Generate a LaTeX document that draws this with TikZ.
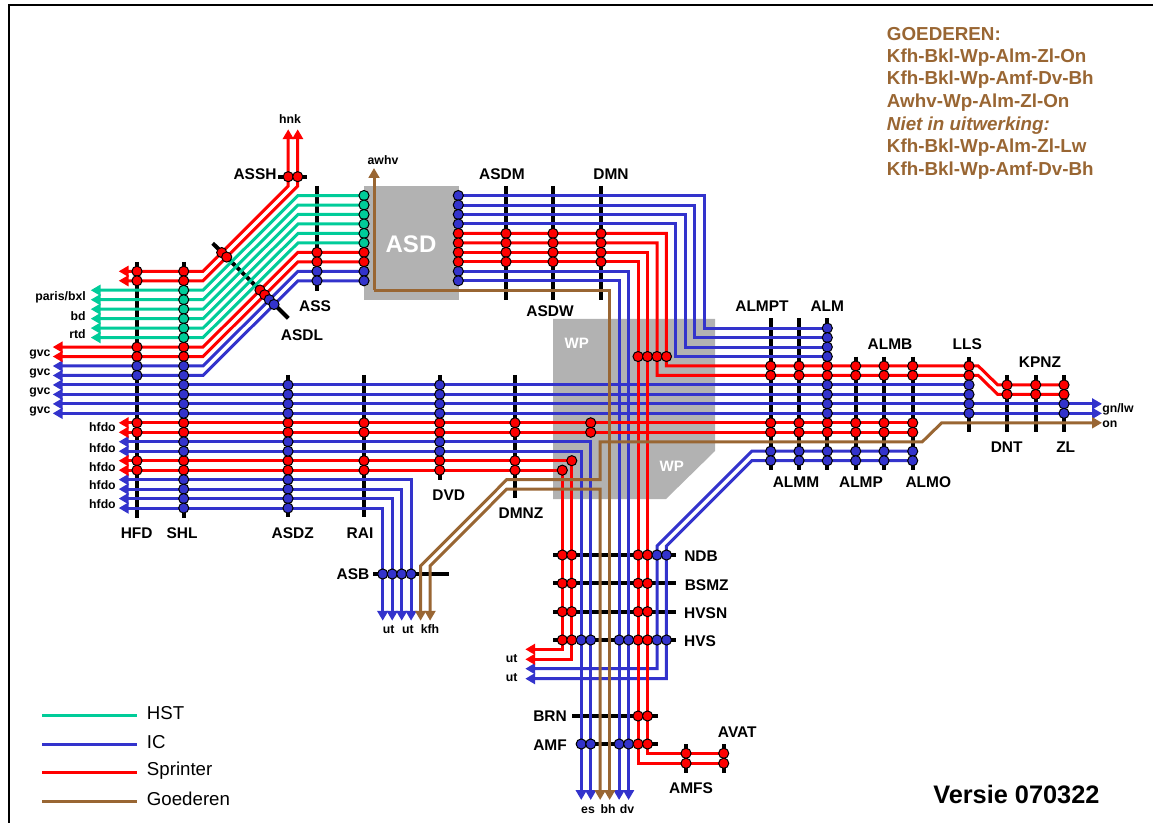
\documentclass[tikz,border=0pt]{standalone}
\usepackage{fontspec}
\setmainfont{Liberation Sans}
\usetikzlibrary{arrows.meta}

\definecolor{hstgreen}{HTML}{00CC99}
\definecolor{icblue}{HTML}{3333CC}
\definecolor{sprred}{HTML}{FF0000}
\definecolor{goedbrown}{HTML}{996633}
\definecolor{yardgrey}{HTML}{B2B2B2}

\pgfdeclarelayer{bars}
\pgfdeclarelayer{tracks}
\pgfsetlayers{bars,tracks,main}

\tikzset{
  declare function={rx(\c)=562.3+9.47*\c; ry(\k)=271.3+9.47*\k;},
  dot/.style={circle, draw=black, line width=0.75pt, inner sep=0pt, minimum size=7.6pt},
  hst/.style={dot, fill=hstgreen},
  ic/.style={dot, fill=icblue},
  spr/.style={dot, fill=sprred},
  stationbar/.style={line width=3pt, black},
  trackline/.style={line width=2.25pt, >={Triangle[length=7.4pt,width=8pt]}},
  hstline/.style={trackline, hstgreen},
  icline/.style={trackline, icblue},
  sprline/.style={trackline, sprred},
  goedline/.style={trackline, goedbrown},
  stn/.style={font=\bfseries\fontsize{11.6}{13}\selectfont, inner sep=0pt},
  dest/.style={font=\bfseries\fontsize{9.2}{11}\selectfont, inner sep=0pt},
  goedtext/.style={font=\bfseries\fontsize{14.1}{16}\selectfont, text=goedbrown, anchor=west, inner sep=0pt},
  keytext/.style={font=\fontsize{14}{16}\selectfont, anchor=west, inner sep=0pt},
}

% dots on a vertical bar (by row) and on a horizontal bar (by column)
\newcommand{\rowstops}[4]{\foreach \k in {#4} \node[#3] (#1-\k) at (#2,{ry(\k)}) {};}
\newcommand{\colstops}[4]{\foreach \c in {#4} \node[#3] (#1-\c) at ({rx(\c)},#2) {};}
\newcommand{\upbar}[4]{\coordinate (#1-top) at (#2,#3); \coordinate (#1-bot) at (#2,#4);
  \begin{pgfonlayer}{bars}\draw[stationbar] (#1-top) -- (#1-bot);\end{pgfonlayer}}
\newcommand{\acrossbar}[4]{\coordinate (#1-left) at (#3,#2); \coordinate (#1-right) at (#4,#2);
  \begin{pgfonlayer}{bars}\draw[stationbar] (#1-left) -- (#1-right);\end{pgfonlayer}}

\begin{document}
\begin{tikzpicture}[x=0.75pt, y=-0.75pt]
  \useasboundingbox (0,0) rectangle (1153,823);
  \coordinate (frame-sw) at (9,823);
  \coordinate (frame-nw) at (9,5);
  \coordinate (frame-ne) at (1153,5);
  \draw[line width=1.5pt, black] (frame-sw) -- (frame-nw) -- (frame-ne);

  % Yards
  \begin{pgfonlayer}{bars}
    \fill[yardgrey] (364,186) rectangle (459,300);
    \fill[yardgrey] (553,319) -- (715,319) -- (715,451) -- (666,499) -- (553,499) -- cycle;
  \end{pgfonlayer}
  \node[font=\bfseries\fontsize{18}{20}\selectfont, text=white, inner sep=0pt] (asdyard) at (411,244) {ASD};
  \node[font=\bfseries\fontsize{11.3}{13}\selectfont, text=white, inner sep=0pt] (wpnorth) at (576.7,343) {WP};
  \node[font=\bfseries\fontsize{11.3}{13}\selectfont, text=white, inner sep=0pt] (wpsouth) at (671.7,466.7) {WP};

  % Station bars
  \upbar{hfd}{137}{262}{517.7}
  \upbar{shl}{183.7}{262}{517.7}
  \upbar{ass}{317}{186}{290.7}
  \upbar{asdm}{506}{186}{300}
  \upbar{asdw}{553}{186}{300}
  \upbar{dmn}{601}{186}{300}
  \upbar{asdz}{288}{375}{516.7}
  \upbar{rai}{364}{375}{516.7}
  \upbar{dvd}{439.7}{375}{480}
  \upbar{dmnz}{515}{375}{497.7}
  \upbar{almpt}{770.7}{318.3}{470}
  \upbar{almm}{799}{318.3}{470}
  \upbar{alm}{827.3}{318.3}{470}
  \upbar{almp}{855.7}{356.7}{470}
  \upbar{almb}{884}{356.7}{470}
  \upbar{almo}{912.7}{356.7}{470}
  \upbar{lls}{969}{356.7}{431.7}
  \upbar{dnt}{1007}{375}{431.7}
  \upbar{kpnz}{1035.7}{375}{431.7}
  \upbar{zl}{1064}{375}{431.7}
  \upbar{amfs}{686}{744}{772.7}
  \upbar{avat}{723.7}{744}{772.7}
  \acrossbar{assh}{176.7}{278}{306.7}
  \acrossbar{asb}{574}{373.3}{449}
  \acrossbar{ndb}{555}{553.3}{676}
  \acrossbar{bsmz}{583.3}{553.3}{676}
  \acrossbar{hvsn}{611.7}{553.3}{676}
  \acrossbar{hvs}{640}{553.3}{676}
  \acrossbar{brn}{716}{572.3}{658}
  \acrossbar{amf}{744}{576}{658}
  \coordinate (asdl-a) at (212.7,243.3);
  \coordinate (asdl-b) at (288.3,318.3);
  \begin{pgfonlayer}{bars}
    \draw[stationbar] (asdl-a) -- (asdl-b);
  \end{pgfonlayer}

  % Stops west of ASD
  \rowstops{hfd}{137}{spr}{0,1,8,9,16,17,20,21}
  \rowstops{hfd}{137}{ic}{10,11}
  \rowstops{shl}{183.7}{spr}{0,1,8,9,16,17,20,21}
  \rowstops{shl}{183.7}{hst}{2,...,7}
  \rowstops{shl}{183.7}{ic}{10,...,15,18,19,22,23,24,25}
  \rowstops{asdz}{288}{spr}{16,17,20,21}
  \rowstops{asdz}{288}{ic}{12,13,14,15,18,19,22,23,24,25}
  \rowstops{rai}{364}{spr}{16,17,20,21}
  \rowstops{dvd}{439.7}{spr}{16,17,20,21}
  \rowstops{dvd}{439.7}{ic}{12,13,14,15,18,19}
  \rowstops{dmnz}{515}{spr}{16,17,20,21}
  \rowstops{ass}{317}{spr}{-2,-1}
  \rowstops{ass}{317}{ic}{0,1}
  \rowstops{asdin}{364}{hst}{-8,...,-3}
  \rowstops{asdin}{364}{spr}{-2,-1}
  \rowstops{asdin}{364}{ic}{0,1}
  \node[spr] (asdl-0) at (221.7,{ry(0)-18.7}) {};
  \node[spr] (asdl-1) at (226.7,{ry(1)-23.7}) {};
  \node[spr] (asdl-8) at (260,{ry(8)-57}) {};
  \node[spr] (asdl-9) at (264.7,{ry(9)-61.7}) {};
  \node[ic] (asdl-10) at (269.3,{ry(10)-66.3}) {};
  \node[ic] (asdl-11) at (274,{ry(11)-71}) {};
  \node[spr] (assh-0) at (288.2,176.7) {};
  \node[spr] (assh-1) at (297.7,176.7) {};

  % Stops east of ASD
  \rowstops{asdout}{458.3}{ic}{-8,-7,-6,-5,0,1}
  \rowstops{asdout}{458.3}{spr}{-4,-3,-2,-1}
  \rowstops{asdm}{506}{spr}{-4,-3,-2,-1}
  \rowstops{asdw}{553}{spr}{-4,-3,-2,-1}
  \rowstops{dmn}{601}{spr}{-4,-3,-2,-1}
  \node[spr] (wpz-16) at ({rx(3)},{ry(16)}) {};
  \node[spr] (wpz-17) at ({rx(3)},{ry(17)}) {};
  \node[spr] (wpw-20) at ({rx(1)},{ry(20)}) {};
  \node[spr] (wpw-21) at ({rx(0)},{ry(21)}) {};
  \colstops{wpn}{{ry(9)}}{spr}{8,9,10,11}
  \foreach \st/\xx in {almpt/770.7,almm/799,alm/827.3,almp/855.7,almb/884,almo/912.7} {
    \rowstops{\st}{\xx}{spr}{10,11,16,17}
    \rowstops{\st}{\xx}{ic}{19,20}
  }
  \rowstops{alm}{827.3}{ic}{6,7,8,9,12,13,14,15}
  \rowstops{lls}{969}{spr}{10,11}
  \rowstops{lls}{969}{ic}{12,13,14,15}
  \rowstops{dnt}{1007}{spr}{12,13}
  \rowstops{kpnz}{1035.7}{spr}{12,13}
  \rowstops{zl}{1064}{spr}{12,13}
  \rowstops{zl}{1064}{ic}{14,15}

  % Stops south
  \foreach \st/\yy in {ndb/555,bsmz/583.3,hvsn/611.7,hvs/640} {
    \colstops{\st}{\yy}{spr}{0,1,8,9}
  }
  \colstops{ndb}{555}{ic}{10,11}
  \colstops{hvs}{640}{ic}{2,3,6,7,10,11}
  \colstops{brn}{716}{spr}{8,9}
  \colstops{amf}{744}{ic}{2,3,6,7}
  \colstops{amf}{744}{spr}{8,9}
  \foreach \c/\yy in {9/753.3,8/763.3} {
    \node[spr] (amfs-\c) at (686,\yy) {};
    \node[spr] (avat-\c) at (723.7,\yy) {};
  }
  \foreach \i/\xx in {0/382.7,1/392.2,2/401.7,3/411.1} {
    \node[ic] (asb-\i) at (\xx,574) {};
    \coordinate (asbs-\i) at (\xx,620.7);
  }

  % Free ends and bends
  \foreach \k in {0,1,16,17,...,25} \coordinate (west-\k) at (118.7,{ry(\k)});
  \foreach \k in {2,...,7} \coordinate (west-\k) at (90.7,{ry(\k)});
  \foreach \k in {8,...,15} \coordinate (west-\k) at (52.7,{ry(\k)});
  \foreach \k in {14,15,16} \coordinate (east-\k) at (1102,{ry(\k)});
  \foreach \k in {0,...,11} \coordinate (bend-\k) at (203,{ry(\k)});
  \foreach \k in {2,...,11} \coordinate (rise-\k) at (298,{ry(\k-10)});
  \foreach \c in {2,...,7} \coordinate (south-\c) at ({rx(\c)},800);
  \foreach \c/\r in {15/6,14/7,13/8,12/9,11/10,10/11} \coordinate (turn-\c) at ({rx(\c)},{ry(\r)});
  \foreach \i in {0,1} {
    \coordinate (hnk-\i) at ({288.2+9.5*\i},129.3);
    \coordinate (hnkturn-\i) at ({288.2+9.5*\i},{ry(-9)});
  }
  \coordinate (lowr-9) at ({rx(9)},753.3);
  \coordinate (lowr-8) at ({rx(8)},763.3);
  \coordinate (utw-1) at (525.3,659.3);
  \coordinate (utw-0) at (525.3,649.3);
  \coordinate (utw-10) at (525.3,668.7);
  \coordinate (utw-11) at (525.3,678.7);
  \foreach \r/\c in {19/10,20/11} {
    \coordinate (diag-\r) at (751.7,{ry(\r)});
    \coordinate (diagend-\r) at ({rx(\c)},546);
  }
  \foreach \k in {10,11} {
    \coordinate (llsdown-\k) at (978.3,{ry(\k)});
    \coordinate (llsflat-\k) at (997.7,{ry(\k+2)});
  }
  \coordinate (awhv-tip) at (374,168);
  \coordinate (awhv-turn) at (374,{ry(2)});
  \coordinate (kfha-tip) at (420.6,620.7);
  \coordinate (kfha-top) at (420.6,566);
  \coordinate (kfha-ramp) at (506.7,{ry(22)});
  \coordinate (kfha-in) at ({rx(4)},{ry(18)});
  \coordinate (kfha-out) at (922.3,{ry(18)});
  \coordinate (kfha-up) at (941.7,{ry(16)});
  \coordinate (kfhb-tip) at (430.1,620.7);
  \coordinate (kfhb-top) at (430.1,566);
  \coordinate (kfhb-ramp) at (506.7,{ry(23)});
  \coordinate (key-hst-a) at (42,715.3);
  \coordinate (key-hst-b) at (137,715.3);
  \coordinate (key-ic-a) at (42,744.3);
  \coordinate (key-ic-b) at (137,744.3);
  \coordinate (key-spr-a) at (42,772.3);
  \coordinate (key-spr-b) at (137,772.3);
  \coordinate (key-goed-a) at (42,801.3);
  \coordinate (key-goed-b) at (137,801.3);

  % Tracks
  \begin{pgfonlayer}{tracks}
    % IC
    \foreach \k/\j/\c in {10/0/7,11/1/6} {
      \draw[icline,<-] (west-\k) -- (bend-\k) -- (rise-\k) -- (asdin-\j.center);
      \draw[icline,->] (asdout-\j.center) -| (south-\c);
    }
    \foreach \j/\c/\r in {-8/15/6,-7/14/7,-6/13/8,-5/12/9} {
      \draw[icline] (asdout-\j.center) -| (turn-\c) -- (alm-\r.center);
    }
    \foreach \k in {12,13} \draw[icline,<-] (west-\k) -- (lls-\k.center);
    \foreach \k in {14,15} \draw[icline,<->] (west-\k) -- (east-\k);
    \draw[icline,<->] (west-18) -| (south-3);
    \draw[icline,<->] (west-19) -| (south-2);
    \draw[icline,<->] (west-22) -| (asbs-3);
    \draw[icline,<->] (west-23) -| (asbs-2);
    \draw[icline,<->] (west-24) -| (asbs-1);
    \draw[icline,<->] (west-25) -| (asbs-0);
    \draw[icline,->] (almo-19.center) -- (diag-19) -- (diagend-19) -- (hvs-10.center) |- (utw-10);
    \draw[icline,->] (almo-20.center) -- (diag-20) -- (diagend-20) -- (hvs-11.center) |- (utw-11);
    % Sprinter
    \foreach \i in {0,1} {
      \draw[sprline,<->] (west-\i) -- (bend-\i) -- (hnkturn-\i) -- (hnk-\i);
    }
    \foreach \k/\j in {8/-2,9/-1} {
      \draw[sprline,<-] (west-\k) -- (bend-\k) -- (rise-\k) -- (asdin-\j.center);
    }
    \foreach \j/\c/\r/\z in {-4/11/10/12,-3/10/11/13} {
      \draw[sprline] (asdout-\j.center) -| (turn-\c) -- (lls-\r.center)
        -- (llsdown-\r) -- (llsflat-\r) -- (zl-\z.center);
    }
    \draw[sprline] (asdout--2.center) -| (lowr-9) -- (avat-9.center);
    \draw[sprline] (asdout--1.center) -| (lowr-8) -- (avat-8.center);
    \foreach \k in {16,17} \draw[sprline,<-] (west-\k) -- (almo-\k.center);
    \draw[sprline,<->] (west-20) -- (wpw-20.center) -- (hvs-1.center) |- (utw-1);
    \draw[sprline,<->] (west-21) -- (wpw-21.center) -- (hvs-0.center) |- (utw-0);
    % HST
    \foreach \k/\j in {2/-8,3/-7,4/-6,5/-5,6/-4,7/-3} {
      \draw[hstline,<-] (west-\k) -- (bend-\k) -- (rise-\k) -- (asdin-\j.center);
    }
    % Goederen
    \draw[goedline,->] (awhv-turn) -- (awhv-tip);
    \draw[goedline,->] (awhv-turn) -| (south-5);
    \draw[goedline,<->] (kfha-tip) -- (kfha-top) -- (kfha-ramp) -| (kfha-in) -- (kfha-out) -- (kfha-up) -- (east-16);
    \draw[goedline,<->] (kfhb-tip) -- (kfhb-top) -- (kfhb-ramp) -| (south-4);
    % Key
    \draw[hstline] (key-hst-a) -- (key-hst-b);
    \draw[icline] (key-ic-a) -- (key-ic-b);
    \draw[sprline] (key-spr-a) -- (key-spr-b);
    \draw[goedline] (key-goed-a) -- (key-goed-b);
  \end{pgfonlayer}

  % Station names
  \node[stn] (lbl-assh) at (255,174) {ASSH};
  \node[stn] (lbl-ass) at (315,306) {ASS};
  \node[stn] (lbl-asdl) at (302,335) {ASDL};
  \node[stn] (lbl-asdm) at (502,174) {ASDM};
  \node[stn] (lbl-dmn) at (611,174) {DMN};
  \node[stn] (lbl-asdw) at (550,311) {ASDW};
  \node[stn] (lbl-hfd) at (136.7,532.7) {HFD};
  \node[stn] (lbl-shl) at (182,532.7) {SHL};
  \node[stn] (lbl-asdz) at (292.7,532.7) {ASDZ};
  \node[stn] (lbl-rai) at (360,532.7) {RAI};
  \node[stn] (lbl-dvd) at (448.7,495) {DVD};
  \node[stn] (lbl-dmnz) at (521,513) {DMNZ};
  \node[stn] (lbl-asb) at (353,574) {ASB};
  \node[stn] (lbl-almpt) at (762,305.7) {ALMPT};
  \node[stn] (lbl-alm) at (827.3,305.7) {ALM};
  \node[stn] (lbl-almb) at (890,343.7) {ALMB};
  \node[stn] (lbl-lls) at (967.3,343.7) {LLS};
  \node[stn] (lbl-kpnz) at (1040,362) {KPNZ};
  \node[stn] (lbl-dnt) at (1006.7,447.3) {DNT};
  \node[stn] (lbl-zl) at (1065.7,447.3) {ZL};
  \node[stn] (lbl-almm) at (796,482.3) {ALMM};
  \node[stn] (lbl-almp) at (861,482.3) {ALMP};
  \node[stn] (lbl-almo) at (928.3,482.3) {ALMO};
  \node[stn] (lbl-ndb) at (701,556) {NDB};
  \node[stn] (lbl-bsmz) at (706.7,584.7) {BSMZ};
  \node[stn] (lbl-hvsn) at (705.7,613) {HVSN};
  \node[stn] (lbl-hvs) at (700,641) {HVS};
  \node[stn] (lbl-brn) at (550,716.3) {BRN};
  \node[stn] (lbl-amf) at (550,745) {AMF};
  \node[stn] (lbl-avat) at (737.3,731.7) {AVAT};
  \node[stn] (lbl-amfs) at (691,788) {AMFS};

  % Destinations
  \node[dest] (to-hnk) at (290,119) {hnk};
  \node[dest] (to-awhv) at (383,160) {awhv};
  \node[dest, anchor=mid east] (to-paris) at (86,297) {paris/bxl};
  \node[dest, anchor=mid east] (to-bd) at (86,317) {bd};
  \node[dest, anchor=mid east] (to-rtd) at (86,335) {rtd};
  \foreach \i/\yy in {1/353.3,2/372,3/391,4/410.3} {
    \node[dest, anchor=mid east] (to-gvc\i) at (50.7,\yy) {gvc};
  }
  \foreach \i/\yy in {1/428.3,2/448.7,3/467.7,4/486,5/505} {
    \node[dest, anchor=mid east] (to-hfdo\i) at (116,\yy) {hfdo};
  }
  \node[dest, anchor=mid] (to-ut1) at (388.7,629.5) {ut};
  \node[dest, anchor=mid] (to-ut2) at (408,629.5) {ut};
  \node[dest, anchor=mid] (to-kfh) at (430,629.5) {kfh};
  \node[dest, anchor=mid] (to-ut3) at (511.7,658.5) {ut};
  \node[dest, anchor=mid] (to-ut4) at (511.7,677.5) {ut};
  \node[dest, anchor=mid] (to-es) at (588,809.5) {es};
  \node[dest, anchor=mid] (to-bh) at (608,809.5) {bh};
  \node[dest, anchor=mid] (to-dv) at (627,809.5) {dv};
  \node[dest, anchor=mid west] (to-gnlw) at (1102,408.5) {gn/lw};
  \node[dest, anchor=mid west] (to-on) at (1102,423.5) {on};

  % Goods list
  \node[goedtext] (goed-0) at (886.7,34) {GOEDEREN:};
  \node[goedtext] (goed-1) at (886.7,57.5) {Kfh-Bkl-Wp-Alm-Zl-On};
  \node[goedtext] (goed-2) at (886.7,80) {Kfh-Bkl-Wp-Amf-Dv-Bh};
  \node[goedtext] (goed-3) at (886.7,102.7) {Awhv-Wp-Alm-Zl-On};
  \node[goedtext, font=\bfseries\itshape\fontsize{14.1}{16}\selectfont] (goed-4) at (886.7,125.3) {Niet in uitwerking:};
  \node[goedtext] (goed-5) at (886.7,148) {Kfh-Bkl-Wp-Alm-Zl-Lw};
  \node[goedtext] (goed-6) at (886.7,170.3) {Kfh-Bkl-Wp-Amf-Dv-Bh};

  % Key
  \node[keytext] (key-hst) at (146.7,713.5) {HST};
  \node[keytext] (key-ic) at (146.7,742.5) {IC};
  \node[keytext] (key-spr) at (146.7,771) {Sprinter};
  \node[keytext] (key-goed) at (146.7,799) {Goederen};
  \node[font=\bfseries\fontsize{19}{21}\selectfont, anchor=west, inner sep=0pt] (versie) at (933,794) {Versie 070322};
\end{tikzpicture}
\end{document}
